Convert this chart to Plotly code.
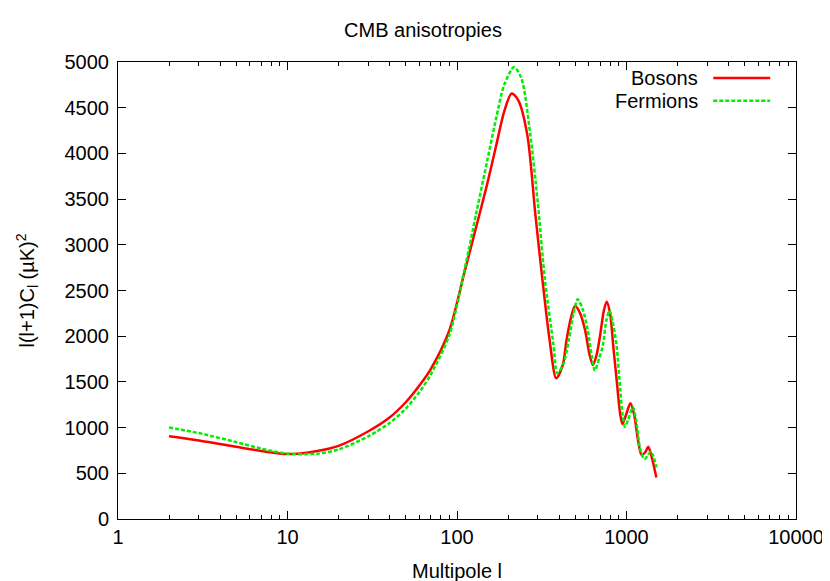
import plotly.graph_objects as go

# Multipole l and l(l+1)C_l values
boson_l = [2, 3, 5, 7, 10, 15, 20, 30, 40, 50, 60, 70, 90, 110, 130, 150, 170, 190, 210,
           230, 260, 290, 320, 350, 385, 420, 443, 470, 497, 530, 569, 605, 634, 665,
           697, 735, 764, 800, 836, 875, 916, 946, 990, 1055, 1110, 1170, 1228, 1290,
           1343, 1400, 1450, 1500]
boson_cl = [905, 860, 790, 745, 710, 745, 800, 960, 1110, 1280, 1460, 1640, 2060, 2680,
            3200, 3650, 4080, 4460, 4655, 4580, 4200, 3330, 2600, 1990, 1540, 1680, 1960,
            2200, 2330, 2260, 2070, 1800, 1685, 1790, 1995, 2280, 2378, 2250, 1885, 1520,
            1160, 1040, 1130, 1266, 1140, 860, 700, 730, 791, 700, 580, 455]

fermion_l = [2, 3, 5, 7, 10, 15, 20, 30, 40, 50, 60, 70, 90, 110, 130, 150, 170, 190, 217,
             240, 270, 300, 330, 370, 391, 425, 457, 485, 515, 550, 590, 625, 652, 690,
             723, 760, 793, 830, 875, 920, 950, 980, 1025, 1088, 1140, 1200, 1273, 1330,
             1387, 1440, 1500]
fermion_cl = [1000, 940, 840, 770, 715, 715, 760, 905, 1050, 1210, 1390, 1580, 2010, 2700,
              3350, 3900, 4380, 4750, 4945, 4820, 4220, 3450, 2620, 1920, 1595, 1700,
              1960, 2230, 2405, 2300, 2070, 1770, 1625, 1760, 1885, 2170, 2280, 2150,
              1885, 1400, 1130, 1010, 1090, 1222, 1080, 780, 655, 690, 737, 690, 565]

x_ticks = [1, 10, 100, 1000, 10000]
y_ticks = list(range(0, 5001, 500))

font = "Liberation Sans, Arial, sans-serif"
fsize = 20

fig = go.Figure()

fig.add_trace(go.Scatter(
    x=boson_l, y=boson_cl, mode='lines', name='Bosons',
    line=dict(color='#ff0000', width=2.5, shape='spline', smoothing=0.8),
    showlegend=False
))
fig.add_trace(go.Scatter(
    x=fermion_l, y=fermion_cl, mode='lines', name='Fermions',
    line=dict(color='#00ee00', width=2.5, dash='4px,2px', shape='spline', smoothing=0.8),
    showlegend=False
))

# gnuplot-style legend: label on the left, line sample on the right
legend_rows = [('Bosons', '#ff0000', 'solid', 0.965), ('Fermions', '#00ee00', '4px,2px', 0.915)]
for label, color, dash, ypos in legend_rows:
    fig.add_annotation(
        x=0.858, y=ypos, xref='paper', yref='paper', text=label, showarrow=False,
        xanchor='right', yanchor='middle', font=dict(family=font, size=fsize, color='black')
    )
    fig.add_shape(
        type='line', xref='paper', yref='paper', x0=0.878, x1=0.962, y0=ypos, y1=ypos,
        line=dict(color=color, width=2.5, dash=dash)
    )

axis_common = dict(
    showgrid=False, zeroline=False, showline=True, linecolor='black', linewidth=1,
    mirror='ticks', ticks='inside', ticklen=8, tickcolor='black',
    tickfont=dict(family=font, size=fsize, color='black'), automargin=False,
)

fig.update_xaxes(
    type='log', range=[0, 4], tickvals=x_ticks, ticktext=[str(v) for v in x_ticks],
    title=dict(text='Multipole l', font=dict(family=font, size=fsize, color='black'), standoff=16),
    minor=dict(ticks='inside', ticklen=4, tickcolor='black', dtick='D1', showgrid=False),
    **axis_common
)
fig.update_yaxes(
    range=[0, 5000], tickvals=y_ticks, ticklabelstandoff=4,
    title=dict(text='l(l+1)C<sub>l</sub> (µK)<sup>2</sup>',
               font=dict(family=font, size=fsize, color='black'), standoff=24),
    **axis_common
)

# the page body adds an 8px offset, so the margins are shifted to compensate
fig.update_layout(
    width=830, height=581,
    margin=dict(l=110, r=42, t=54, b=70),
    paper_bgcolor='white', plot_bgcolor='white',
    title=dict(text='CMB anisotropies', x=0.5, xanchor='center', y=0.962, yanchor='middle',
               font=dict(family=font, size=fsize, color='black')),
    font=dict(family=font, color='black'),
)

fig.write_html("out.html")
